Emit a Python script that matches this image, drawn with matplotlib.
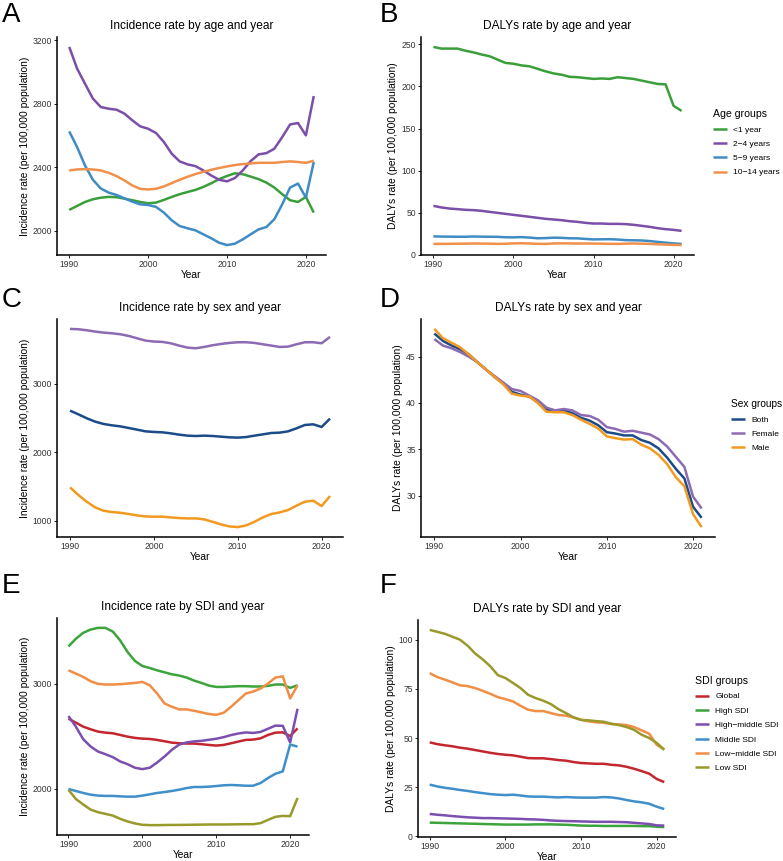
import matplotlib
matplotlib.use("Agg")
import matplotlib.pyplot as plt

plt.rcParams["font.family"] = ["Liberation Sans", "DejaVu Sans"]

YEARS = list(range(1990, 2022))

# A: incidence by age
inc_age_lt1 = [2130, 2155, 2180, 2197, 2207, 2212, 2210, 2201, 2191, 2180, 2172, 2176, 2193, 2212, 2229, 2243,
               2256, 2275, 2298, 2324, 2344, 2361, 2355, 2340, 2324, 2302, 2271, 2229, 2191, 2180, 2212, 2113]
inc_age_2_4 = [3158, 3021, 2926, 2832, 2779, 2768, 2762, 2737, 2695, 2657, 2642, 2615, 2558, 2484, 2436, 2417,
               2406, 2379, 2347, 2320, 2310, 2331, 2379, 2438, 2480, 2488, 2516, 2589, 2669, 2678, 2600, 2848]
inc_age_5_9 = [2625, 2526, 2410, 2320, 2265, 2239, 2224, 2203, 2182, 2165, 2161, 2149, 2113, 2064, 2028, 2014,
               2001, 1976, 1951, 1923, 1908, 1917, 1944, 1976, 2007, 2022, 2071, 2165, 2271, 2296, 2207, 2432]
inc_age_10_14 = [2379, 2385, 2387, 2385, 2379, 2364, 2343, 2316, 2284, 2263, 2259, 2263, 2278, 2299, 2320, 2339,
                 2356, 2370, 2383, 2394, 2404, 2413, 2419, 2423, 2427, 2427, 2427, 2432, 2436, 2432, 2427, 2440]

# B: DALYs by age
daly_age_lt1 = [247, 245, 245, 245, 242.5, 240.5, 238, 236, 232, 228, 227, 225, 224, 221, 218, 215.5,
                214, 211.5, 211, 210, 209, 209.5, 209, 211, 210, 209, 207, 205, 203, 202.5, 177, 171]
daly_age_2_4 = [58.2, 56.3, 55, 54.3, 53.5, 53.1, 52.3, 51.1, 49.9, 48.7, 47.5, 46.4, 45.2, 44, 42.8, 42,
                41.2, 40, 39.2, 38, 37.2, 37.2, 36.8, 36.8, 36.5, 35.7, 34.5, 33.3, 31.7, 30.5, 29.7, 28.5]
daly_age_5_9 = [22, 21.7, 21.6, 21.5, 21.5, 21.8, 21.6, 21.5, 21.4, 20.9, 20.8, 21.1, 20.5, 19.7, 19.9, 20.4,
                20.2, 19.7, 19.6, 18.9, 18.3, 18.5, 18.6, 18.2, 17.5, 17.3, 17.1, 16.4, 15.4, 14.5, 13.6, 13.0]
daly_age_10_14 = [13.0, 13.1, 13.1, 13.2, 13.3, 13.5, 13.4, 13.3, 13.0, 13.2, 13.6, 13.8, 13.5, 13.1, 13.0, 13.5,
                  13.7, 13.6, 13.4, 13.5, 13.4, 13.3, 13.1, 13.0, 13.3, 13.5, 13.3, 13.0, 12.6, 12.2, 11.9, 11.6]

# C: incidence by sex
inc_sex_both = [2610, 2556, 2498, 2449, 2415, 2395, 2380, 2356, 2332, 2307, 2298, 2293, 2278, 2259, 2244, 2239,
                2244, 2239, 2229, 2220, 2215, 2224, 2244, 2263, 2283, 2288, 2307, 2351, 2400, 2410, 2371, 2493]
inc_sex_female = [3805, 3800, 3785, 3766, 3751, 3741, 3727, 3702, 3668, 3634, 3620, 3615, 3595, 3561, 3532, 3522,
                  3541, 3566, 3585, 3600, 3610, 3610, 3600, 3580, 3561, 3541, 3546, 3580, 3610, 3610, 3595, 3688]
inc_sex_male = [1488, 1376, 1278, 1195, 1146, 1127, 1117, 1098, 1078, 1063, 1059, 1059, 1049, 1039, 1034, 1034,
                1020, 985, 946, 917, 907, 932, 985, 1049, 1098, 1122, 1156, 1220, 1278, 1293, 1215, 1361]

# D: DALYs by sex
daly_sex_both = [47.5, 46.7, 46.2, 45.8, 45.25, 44.4, 43.6, 42.8, 42.1, 41.2, 40.9, 40.7, 40.1, 39.3, 39.2, 39.2,
                 38.9, 38.4, 38.1, 37.6, 36.85, 36.7, 36.5, 36.5, 36.0, 35.7, 35.1, 34.1, 32.9, 31.85, 28.8, 27.6]
daly_sex_female = [46.9, 46.2, 45.9, 45.5, 45.0, 44.4, 43.6, 42.9, 42.2, 41.5, 41.3, 40.8, 40.3, 39.5, 39.2, 39.35,
                   39.2, 38.7, 38.6, 38.2, 37.4, 37.2, 36.9, 37.0, 36.8, 36.6, 36.1, 35.3, 34.2, 33.1, 29.9, 28.6]
daly_sex_male = [48.0, 47.0, 46.5, 46.0, 45.25, 44.4, 43.6, 42.8, 42.0, 41.0, 40.8, 40.7, 40.0, 39.05, 39.0, 39.0,
                 38.7, 38.2, 37.75, 37.25, 36.4, 36.2, 36.05, 36.1, 35.5, 35.1, 34.4, 33.4, 32.0, 31.0, 28.0, 26.6]

# E: incidence by SDI
inc_sdi_global = [2666, 2628, 2590, 2565, 2543, 2533, 2527, 2511, 2495, 2483, 2476, 2473, 2464, 2451, 2438, 2432,
                  2429, 2429, 2423, 2416, 2410, 2416, 2432, 2448, 2464, 2467, 2479, 2511, 2533, 2536, 2500, 2574]
inc_sdi_high = [3353, 3426, 3483, 3514, 3530, 3530, 3495, 3410, 3300, 3215, 3167, 3148, 3126, 3107, 3088, 3076,
                3057, 3028, 3006, 2981, 2968, 2968, 2972, 2975, 2975, 2972, 2972, 2978, 2991, 2991, 2959, 2984]
inc_sdi_highmid = [2691, 2590, 2470, 2401, 2353, 2328, 2300, 2259, 2233, 2199, 2186, 2199, 2249, 2306, 2370, 2420,
                   2440, 2450, 2455, 2465, 2475, 2490, 2510, 2525, 2535, 2530, 2540, 2570, 2600, 2598, 2440, 2760]
inc_sdi_middle = [1997, 1978, 1959, 1943, 1934, 1931, 1931, 1927, 1924, 1924, 1934, 1946, 1959, 1968, 1978, 1991,
                  2006, 2016, 2016, 2019, 2025, 2032, 2035, 2032, 2028, 2028, 2054, 2101, 2142, 2164, 2420, 2400]
inc_sdi_lowmid = [3126, 3095, 3063, 3022, 2997, 2991, 2991, 2994, 3000, 3006, 3016, 2984, 2905, 2811, 2779, 2754,
                  2754, 2741, 2726, 2710, 2703, 2722, 2779, 2842, 2905, 2924, 2953, 3000, 3057, 3069, 2858, 2984]
inc_sdi_low = [1990, 1902, 1849, 1801, 1776, 1760, 1744, 1713, 1688, 1669, 1656, 1653, 1653, 1654, 1655, 1655,
               1656, 1657, 1658, 1659, 1659, 1659, 1660, 1661, 1662, 1662, 1672, 1703, 1732, 1741, 1738, 1912]

# F: DALYs by SDI
daly_sdi_global = [47.8, 46.9, 46.3, 45.8, 45.1, 44.6, 43.9, 43.2, 42.5, 41.9, 41.5, 41.2, 40.5, 39.8, 39.7, 39.7,
                   39.3, 38.8, 38.5, 37.8, 37.3, 37.1, 36.9, 36.9, 36.4, 36.1, 35.4, 34.4, 33.2, 31.9, 29.2, 27.6]
daly_sdi_high = [7.0, 6.9, 6.8, 6.7, 6.6, 6.5, 6.4, 6.3, 6.2, 6.1, 6.0, 6.0, 6.0, 6.0, 6.1, 6.1,
                 6.1, 6.0, 5.9, 5.7, 5.5, 5.4, 5.4, 5.3, 5.3, 5.3, 5.3, 5.3, 5.2, 5.2, 4.9, 4.7]
daly_sdi_highmid = [11.4, 11.0, 10.7, 10.3, 10.0, 9.7, 9.5, 9.3, 9.3, 9.2, 9.1, 9.0, 8.9, 8.7, 8.6, 8.4,
                    8.1, 7.9, 7.8, 7.7, 7.6, 7.5, 7.4, 7.4, 7.4, 7.3, 7.2, 6.9, 6.6, 6.3, 5.6, 5.5]
daly_sdi_middle = [26.3, 25.4, 24.7, 24.2, 23.6, 23.1, 22.5, 22.0, 21.5, 21.2, 21.0, 21.2, 20.8, 20.3, 20.2, 20.2,
                   20.0, 19.8, 20.0, 19.8, 19.7, 19.7, 19.7, 20.0, 19.8, 19.3, 18.5, 17.8, 17.3, 16.6, 15.1, 13.9]
daly_sdi_lowmid = [83, 81, 79.7, 78.3, 76.8, 76.4, 75.4, 74, 72.5, 70.8, 69.8, 68.6, 66.4, 64.4, 63.7, 63.7,
                   62.7, 61.7, 61.4, 60.5, 59.3, 58.5, 58, 57.8, 57.1, 56.9, 56.6, 55.6, 53.9, 52.2, 46.6, 44.1]
daly_sdi_low = [105, 104, 103, 101.5, 100, 97, 93, 90, 86.5, 82, 80.5, 78, 75.4, 72, 70.3, 69,
                67.3, 64.7, 62.7, 60.5, 59.2, 59, 58.6, 58.3, 57.3, 56.6, 55.6, 54.2, 51.7, 50, 47.5, 44.1]

AGE_LABELS = ["<1 year", "2\u22124 years", "5\u22129 years", "10\u221214 years"]
SEX_LABELS = ["Both", "Female", "Male"]
SDI_LABELS = ["Global", "High SDI", "High\u2212middle SDI", "Middle SDI", "Low\u2212middle SDI", "Low SDI"]

AGE_COLORS = ["#3a9f3a", "#7b4fa8", "#3f8cc5", "#f0904a"]
SEX_COLORS = ["#1c4b8a", "#8d6bb2", "#f29a1f"]
SDI_COLORS = ["#c4262e", "#3ba43b", "#7b4fae", "#3f8fcb", "#f08e45", "#999a2b"]

W, H = 783, 861
fig = plt.figure(figsize=(W / 100, H / 100), dpi=100)


def add_ax(left, top, right, bottom):
    return fig.add_axes([left / W, 1 - bottom / H, (right - left) / W, (bottom - top) / H])


def panel(ax, title, ylabel, series, colors, labels, yticks=None):
    for ys, c, lab in zip(series, colors, labels):
        ax.plot(YEARS, ys, color=c, lw=1.8, label=lab, solid_capstyle="butt")
    # ggplot-style 5% expansion on both axes
    lo = min(min(s) for s in series)
    hi = max(max(s) for s in series)
    pad = 0.05 * (hi - lo)
    ax.set_ylim(lo - pad, hi + pad)
    ax.set_xlim(1990 - 0.05 * 31, 2021 + 0.05 * 31)
    ax.set_xticks([1990, 2000, 2010, 2020])
    if yticks is not None:
        ax.set_yticks(yticks)
    for s in ("top", "right"):
        ax.spines[s].set_visible(False)
    for s in ("left", "bottom"):
        ax.spines[s].set_linewidth(1.1)
    ax.tick_params(labelsize=6.2, length=2.2, width=0.6, pad=1.5, colors="black",
                   labelcolor="#333333")
    ax.set_title(title, fontsize=8.6, pad=6)
    ax.set_xlabel("Year", fontsize=7.4, labelpad=0.5)
    ax.set_ylabel(ylabel, fontsize=7.4, labelpad=2)


def legend(ax, title, x, y, title_size=7.6):
    leg = ax.legend(title=title, loc="upper left", bbox_to_anchor=(x / W, 1 - y / H),
                    bbox_transform=fig.transFigure, frameon=False, fontsize=6.0,
                    title_fontsize=title_size, handlelength=1.6, handletextpad=0.8,
                    labelspacing=0.78, borderpad=0, alignment="left")
    for line in leg.get_lines():
        line.set_linewidth(1.8)


INC = "Incidence rate (per 100,000 population)"
DALY = "DALYs rate (per 100,000 population)"

axA = add_ax(57, 37, 326, 255)
panel(axA, "Incidence rate by age and year", INC,
      [inc_age_lt1, inc_age_2_4, inc_age_5_9, inc_age_10_14], AGE_COLORS, AGE_LABELS,
      [2000, 2400, 2800, 3200])

axB = add_ax(421, 37, 694, 255)
panel(axB, "DALYs rate by age and year", DALY,
      [daly_age_lt1, daly_age_2_4, daly_age_5_9, daly_age_10_14], AGE_COLORS, AGE_LABELS,
      [0, 50, 100, 150, 200, 250])
legend(axB, "Age groups", 709, 105)

axC = add_ax(57, 319, 343, 537)
panel(axC, "Incidence rate by sex and year", INC,
      [inc_sex_both, inc_sex_female, inc_sex_male], SEX_COLORS, SEX_LABELS,
      [1000, 2000, 3000])

axD = add_ax(421, 319, 715, 537)
panel(axD, "DALYs rate by sex and year", DALY,
      [daly_sex_both, daly_sex_female, daly_sex_male], SEX_COLORS, SEX_LABELS,
      [30, 35, 40, 45])
legend(axD, "Sex groups", 727, 395, title_size=7.3)

axE = add_ax(57, 618, 309, 835)
panel(axE, "Incidence rate by SDI and year", INC,
      [inc_sdi_global, inc_sdi_high, inc_sdi_highmid, inc_sdi_middle, inc_sdi_lowmid, inc_sdi_low],
      SDI_COLORS, SDI_LABELS, [2000, 3000])

axF = add_ax(418, 620, 676, 837)
panel(axF, "DALYs rate by SDI and year", DALY,
      [daly_sdi_global, daly_sdi_high, daly_sdi_highmid, daly_sdi_middle, daly_sdi_lowmid, daly_sdi_low],
      SDI_COLORS, SDI_LABELS, [0, 25, 50, 75, 100])
legend(axF, "SDI groups", 691, 672)

for letter, x, y in [("A", 2, 15), ("B", 380, 15), ("C", 2, 300),
                     ("D", 380, 300), ("E", 2, 586), ("F", 380, 586)]:
    fig.text(x / W, 1 - y / H, letter, fontsize=20, ha="left", va="center")

fig.savefig("out.png", dpi=100)
